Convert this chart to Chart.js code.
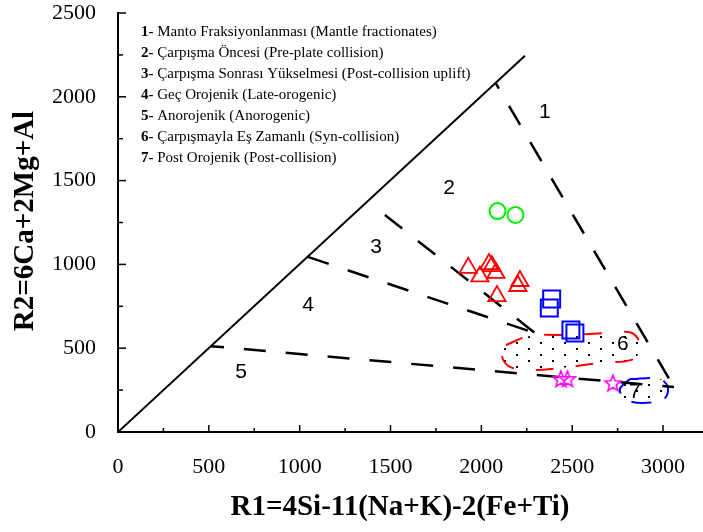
<!DOCTYPE html>
<html>
<head>
<meta charset="utf-8">
<script src="https://cdn.jsdelivr.net/npm/chart.js@4.4.1/dist/chart.umd.min.js"></script>
<style>
  html, body { margin: 0; padding: 0; background: #fff; }
  #wrap { width: 703px; height: 532px; }
</style>
</head>
<body>
<div id="wrap"><canvas id="chart" width="703" height="532"></canvas></div>
<script>
// sample groups (R1, R2)
const circleR1 = [2089, 2188];
const circleR2 = [1318, 1295];
const triangleR1 = [1928, 1992, 2042, 2058, 2080, 2212, 2201, 2086];
const triangleR2 = [979, 928, 1002, 990, 949, 901, 871, 811];
const squareR1 = [2387, 2374, 2493, 2515];
const squareR2 = [794, 740, 609, 591];
const starR1 = [2438, 2474, 2724];
const starR2 = [316, 316, 291];

// field boundaries
const diagonalR1 = [0, 2240];
const diagonalR2 = [0, 2245];
const b12R1 = [2080, 3060];
const b12R2 = [2080, 268];
const b23R1 = [1469, 2295];
const b23R2 = [1295, 591];
const b34R1 = [1045, 2295];
const b34R2 = [1045, 591];
const b45R1 = [512, 3060];
const b45R2 = [512, 268];

// syn-collision (6) and post-collision (7) fields
const synR1 = [2135, 2267, 2488, 2708, 2829, 2873, 2840, 2653, 2433, 2267, 2157, 2113, 2135];
const synR2 = [519, 573, 579, 591, 591, 519, 436, 412, 382, 370, 388, 453, 519];
const postR1 = [2818, 2983, 3027, 3005, 2884, 2790, 2763, 2818];
const postR2 = [316, 316, 263, 197, 173, 197, 257, 316];

// field numbers and where they sit (R1, R2)
const fieldNumbers = ['1', '2', '3', '4', '5', '6', '7'];
const fieldNumR1 = [2350, 1822, 1420, 1046, 677, 2779, 2845];
const fieldNumR2 = [1909, 1456, 1104, 758, 358, 525, 239];

// key text
const keyNumbers = ['1-', '2-', '3-', '4-', '5-', '6-', '7-'];
const keyNames = [
  'Manto Fraksiyonlanması (Mantle fractionates)',
  'Çarpışma Öncesi (Pre-plate collision)',
  'Çarpışma Sonrası Yükselmesi (Post-collision uplift)',
  'Geç Orojenik (Late-orogenic)',
  'Anorojenik (Anorogenic)',
  'Çarpışmayla Eş Zamanlı (Syn-collision)',
  'Post Orojenik (Post-collision)'
];

const xTicks = [0, 250, 500, 750, 1000, 1250, 1500, 1750, 2000, 2250, 2500, 2750, 3000];
const xTitle = 'R1=4Si-11(Na+K)-2(Fe+Ti)';
const yTitle = 'R2=6Ca+2Mg+Al';

const SERIF = "'Liberation Serif', 'Times New Roman', serif";
const SANS = "'Liberation Sans', Arial, sans-serif";

const pts = (xs, ys) => xs.map((v, i) => ({ x: v, y: ys[i] }));

// five-point star marker
function makeStar(color) {
  const c = document.createElement('canvas');
  c.width = 20; c.height = 20;
  const g = c.getContext('2d');
  g.strokeStyle = color;
  g.lineWidth = 1.6;
  g.beginPath();
  for (let i = 0; i < 10; i++) {
    const r = i % 2 === 0 ? 8.5 : 3.6;
    const a = -Math.PI / 2 + i * Math.PI / 5;
    const px = 10 + r * Math.cos(a), py = 10.5 + r * Math.sin(a);
    if (i === 0) g.moveTo(px, py); else g.lineTo(px, py);
  }
  g.closePath();
  g.stroke();
  return c;
}

// stipple used inside fields 6 and 7
function makeDots() {
  const c = document.createElement('canvas');
  c.width = 24; c.height = 12;
  const g = c.getContext('2d');
  g.fillStyle = '#000';
  g.fillRect(0, 0, 2, 2);
  g.fillRect(12, 6, 2, 2);
  return g.createPattern(c, 'repeat');
}
const dots = makeDots();

function boundary(xs, ys, dashOffset) {
  return {
    data: pts(xs, ys), showLine: true, pointRadius: 0,
    borderColor: '#000', borderWidth: 2.5, borderDash: [22, 20],
    borderDashOffset: dashOffset || 0, fill: false, order: 2
  };
}

const inwardTicks = {
  id: 'inwardTicks',
  afterDraw(chart) {
    const { ctx, scales: { x, y } } = chart;
    ctx.save();
    ctx.strokeStyle = '#000';
    ctx.lineWidth = 1.5;
    x.ticks.forEach(t => {
      const px = x.getPixelForValue(t.value);
      const len = t.value % 500 === 0 ? 7 : 4;
      ctx.beginPath(); ctx.moveTo(px, x.top); ctx.lineTo(px, x.top - len); ctx.stroke();
    });
    y.ticks.forEach(t => {
      const py = y.getPixelForValue(t.value);
      const len = t.value % 500 === 0 ? 8 : 5;
      ctx.beginPath(); ctx.moveTo(y.right, py); ctx.lineTo(y.right + len, py); ctx.stroke();
    });
    ctx.restore();
  }
};

const annotations = {
  id: 'annotations',
  afterDraw(chart) {
    const { ctx, scales: { x, y } } = chart;
    ctx.save();
    ctx.fillStyle = '#000';
    // field numbers
    ctx.font = '21px ' + SANS;
    ctx.textAlign = 'center';
    ctx.textBaseline = 'middle';
    fieldNumbers.forEach((n, i) => {
      ctx.fillText(n, x.getPixelForValue(fieldNumR1[i]), y.getPixelForValue(fieldNumR2[i]));
    });
    // key
    ctx.textAlign = 'left';
    keyNumbers.forEach((n, i) => {
      const ty = 32 + i * 21;
      ctx.font = 'bold 15px ' + SERIF;
      ctx.fillText(n, 141, ty);
      const w = ctx.measureText(n).width;
      ctx.font = '15px ' + SERIF;
      ctx.fillText(' ' + keyNames[i], 141 + w, ty);
    });
    // axis titles
    ctx.font = 'bold 29px ' + SERIF;
    ctx.textAlign = 'center';
    ctx.fillText(xTitle, 400, 508);
    ctx.translate(26, 221);
    ctx.rotate(-Math.PI / 2);
    ctx.fillText(yTitle, 0, 0);
    ctx.restore();
  }
};

Chart.defaults.color = '#000';

new Chart(document.getElementById('chart'), {
  type: 'scatter',
  data: {
    datasets: [
      { data: pts(circleR1, circleR2), pointStyle: 'circle', pointRadius: 8,
        borderColor: '#00ee00', backgroundColor: 'rgba(0,0,0,0)', borderWidth: 2, order: 0 },
      { data: pts(triangleR1, triangleR2), pointStyle: 'triangle', pointRadius: 10,
        borderColor: '#ff0000', backgroundColor: 'rgba(0,0,0,0)', borderWidth: 1.8, order: 0 },
      { data: pts(squareR1, squareR2), pointStyle: 'rect', pointRadius: 12,
        borderColor: '#0000ff', backgroundColor: 'rgba(0,0,0,0)', borderWidth: 2, order: 0 },
      { data: pts(starR1, starR2), pointStyle: makeStar('#ff00ff'), pointRadius: 9, order: 0 },

      { data: pts(diagonalR1, diagonalR2), showLine: true, pointRadius: 0,
        borderColor: '#000', borderWidth: 2, fill: false, order: 2 },
      boundary(b12R1, b12R2, 16),
      boundary(b23R1, b23R2, 0),
      boundary(b34R1, b34R2, 0),
      boundary(b45R1, b45R2, 9),

      { data: pts(synR1, synR2), showLine: true, pointRadius: 0, tension: 0.35,
        borderColor: '#ff0000', borderWidth: 2, borderDash: [18, 22],
        backgroundColor: dots, fill: 'shape', order: 3 },
      { data: pts(postR1, postR2), showLine: true, pointRadius: 0, tension: 0.35,
        borderColor: '#0000ff', borderWidth: 2, borderDash: [20, 14],
        backgroundColor: dots, fill: 'shape', order: 3 }
    ]
  },
  options: {
    responsive: false,
    animation: false,
    events: [],
    layout: { autoPadding: false, padding: { top: 13, right: 0, bottom: 0, left: 0 } },
    plugins: { legend: { display: false }, tooltip: { enabled: false } },
    scales: {
      x: {
        type: 'linear', min: 0, max: 3220,
        afterBuildTicks: s => { s.ticks = xTicks.map(v => ({ value: v })); },
        afterFit: s => { s.height = 100; s.paddingLeft = 0; s.paddingRight = 0; },
        grid: { display: false, drawTicks: false },
        border: { display: true, color: '#000', width: 2 },
        ticks: {
          font: { family: SERIF, size: 22 }, padding: 22, maxRotation: 0, autoSkip: false,
          callback: v => (v % 500 === 0 ? v : '')
        }
      },
      y: {
        type: 'linear', min: 0, max: 2500,
        afterFit: s => { s.width = 118; s.paddingTop = 0; s.paddingBottom = 0; },
        grid: { display: false, drawTicks: false },
        border: { display: true, color: '#000', width: 2 },
        ticks: {
          stepSize: 250, font: { family: SERIF, size: 22 }, padding: 22,
          callback: v => (v % 500 === 0 ? v : '')
        }
      }
    }
  },
  plugins: [inwardTicks, annotations]
});
</script>
</body>
</html>
